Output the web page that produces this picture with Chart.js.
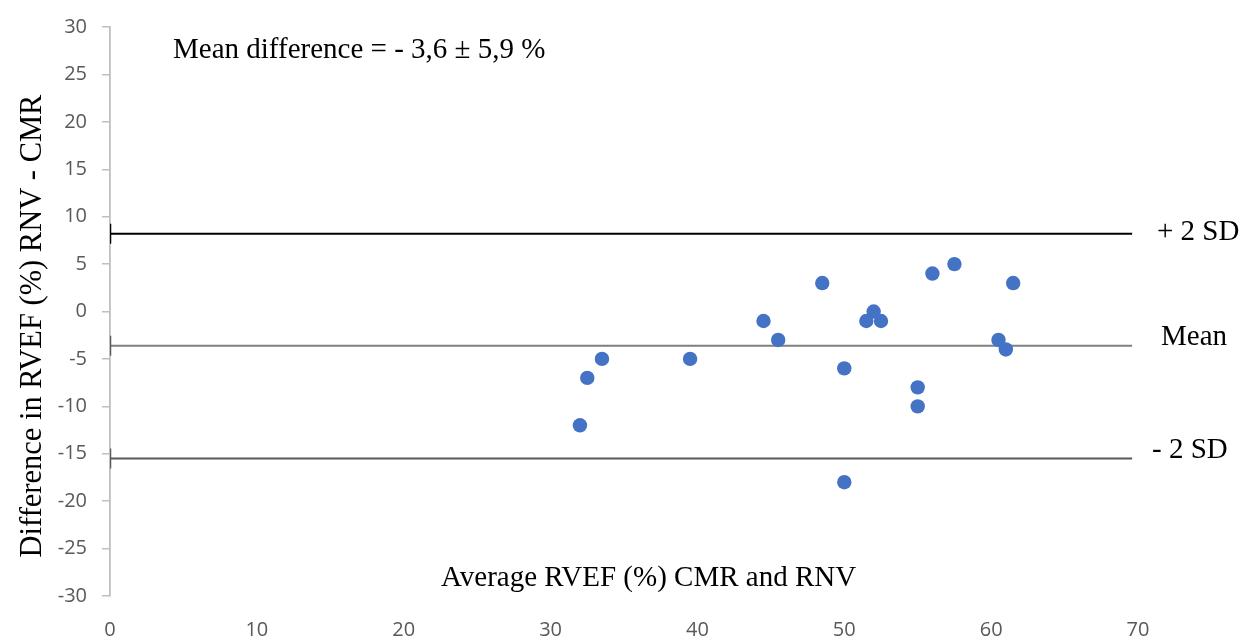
<!DOCTYPE html>
<html>
<head>
<meta charset="utf-8">
<script src="https://cdn.jsdelivr.net/npm/chart.js@4/dist/chart.umd.min.js"></script>
<style>
  html, body { margin: 0; padding: 0; background: #fff; }
  #wrap { width: 1243px; height: 640px; }
</style>
</head>
<body>
<div id="wrap"><canvas id="blandAltman"></canvas></div>
<script>
// averages (x) and differences (y)
var avgValues = [32, 32.5, 33.5, 39.5, 44.5, 45.5, 48.5, 50, 50, 51.5, 52, 52.5, 55, 55, 56, 57.5, 60.5, 61, 61.5];
var diffValues = [-12, -7, -5, -5, -1, -3, 3, -6, -18, -1, 0, -1, -8, -10, 4, 5, -3, -4, 3];

// reference lines: + 2 SD, mean, - 2 SD
var refLabels = ['+ 2 SD', 'Mean', '- 2 SD'];
var refValues = [8.2, -3.6, -15.5];
var refColors = ['#000000', '#7f7f7f', '#595959'];
var refStart = 0;
var refEnd = 69.6;

var xTicks = [0, 10, 20, 30, 40, 50, 60, 70];
var yTicks = [-30, -25, -20, -15, -10, -5, 0, 5, 10, 15, 20, 25, 30];

var serif = '"Liberation Serif", "Times New Roman", serif';
var sans = '"Open Sans", "Liberation Sans", sans-serif';

var points = avgValues.map(function(x, i) {
    return { x: x, y: diffValues[i] };
});

var datasets = refValues.map(function(v, i) {
    return {
        type: 'line',
        label: refLabels[i],
        data: [{ x: refStart, y: v }, { x: refEnd, y: v }],
        borderColor: refColors[i],
        borderWidth: 2,
        pointStyle: 'line',
        pointRotation: 90,
        pointRadius: [10, 0],
        pointBorderWidth: 2.5,
        pointBorderColor: i == 0 ? '#000000' : '#595959',
        pointBackgroundColor: refColors[i],
        order: 2
    };
});

datasets.push({
    type: 'scatter',
    label: 'RVEF',
    data: points,
    backgroundColor: '#4472C4',
    borderColor: '#4472C4',
    pointRadius: 7.2,
    borderWidth: 0,
    order: 1
});

var textPlugin = {
    id: 'textPlugin',
    afterDraw: function(chart) {
        var ctx = chart.ctx;
        var ys = chart.scales.y;
        ctx.save();
        ctx.fillStyle = '#000';
        ctx.font = '29px ' + serif;
        ctx.textBaseline = 'middle';
        ctx.textAlign = 'left';

        ctx.fillText('Mean difference = - 3,6 \u00b1 5,9 %', 173, 50);

        // x title sits inside the plot area in the original
        ctx.fillText('Average RVEF (%) CMR and RNV', 441, 578);

        var lefts = [1157, 1161, 1152];
        var shifts = [-1, -8, -8];
        refValues.forEach(function(v, i) {
            ctx.fillText(refLabels[i], lefts[i], ys.getPixelForValue(v) + shifts[i]);
        });

        // y title
        ctx.save();
        ctx.translate(33, 326);
        ctx.rotate(-Math.PI / 2);
        ctx.font = '30.5px ' + serif;
        ctx.textAlign = 'center';
        ctx.fillText('Difference in RVEF (%) RNV - CMR', 0, 0);
        ctx.restore();

        ctx.restore();
    }
};

var config = {
    data: { datasets: datasets },
    options: {
        responsive: true,
        maintainAspectRatio: false,
        animation: false,
        layout: {
            padding: { top: 20, right: 105, left: 0, bottom: 0 }
        },
        plugins: {
            legend: { display: false },
            tooltip: { enabled: false }
        },
        scales: {
            x: {
                type: 'linear',
                min: 0,
                max: 70,
                afterBuildTicks: function(axis) {
                    axis.ticks = xTicks.map(function(v) { return { value: v }; });
                },
                afterFit: function(axis) { axis.height = 44; },
                grid: { display: false },
                border: { display: false },
                ticks: {
                    color: '#595959',
                    padding: 14,
                    maxRotation: 0,
                    font: { family: sans, size: 20 }
                }
            },
            y: {
                type: 'linear',
                min: -30,
                max: 30,
                afterBuildTicks: function(axis) {
                    axis.ticks = yTicks.map(function(v) { return { value: v }; });
                },
                afterFit: function(axis) { axis.width = 110; },
                grid: {
                    drawOnChartArea: false,
                    drawTicks: true,
                    tickLength: 8,
                    color: '#bfbfbf',
                    lineWidth: 1.5
                },
                border: { display: true, color: '#bfbfbf', width: 1.8 },
                ticks: {
                    color: '#595959',
                    padding: 15,
                    font: { family: sans, size: 20 }
                }
            }
        }
    },
    plugins: [textPlugin]
};

var chart = new Chart(document.getElementById('blandAltman'), config);
</script>
</body>
</html>
